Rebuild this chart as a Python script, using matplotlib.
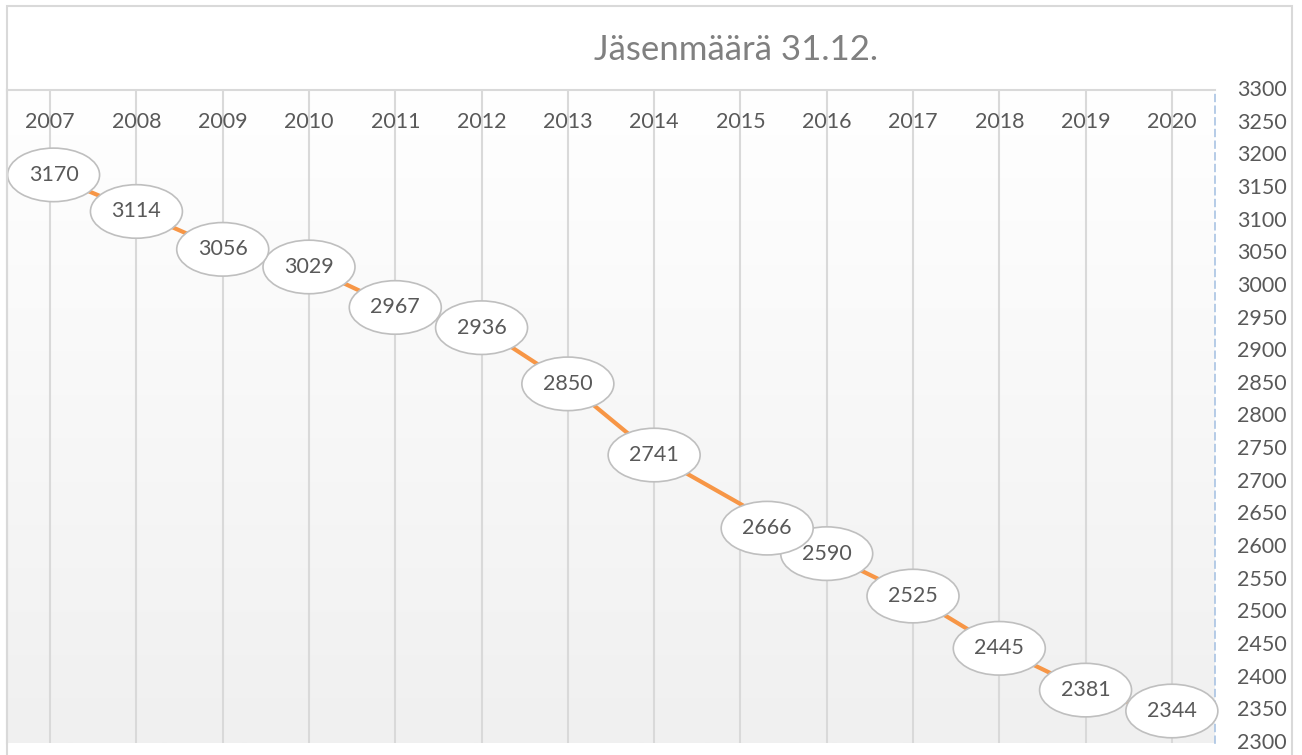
import matplotlib

matplotlib.use("Agg")
import matplotlib.pyplot as plt
import numpy as np
from matplotlib.patches import Ellipse, Rectangle

years = ["2007", "2008", "2009", "2010", "2011", "2012", "2013",
         "2014", "2015", "2016", "2017", "2018", "2019", "2020"]
members = [3170, 3114, 3056, 3029, 2967, 2936, 2850,
           2741, 2666, 2590, 2525, 2445, 2381, 2344]
# label nudges (x in categories, y in members) where the bubble sits off the point
label_dx = [0.04, 0, 0, 0, 0, 0, 0, 0, 0.31, 0, 0, 0, 0, 0]
label_dy = [0, 0, 0, 0, 0, 0, 0, 0, -37, 0, 0, 0, 0, 5]

W, H = 1302, 755
FONT = ["Lato", "DejaVu Sans"]
TXT = "#595959"
GRID = "#d9d9d9"

plt.rcParams["font.family"] = FONT

fig = plt.figure(figsize=(W / 100, H / 100), dpi=100)
fig.patches.append(Rectangle((7 / W, -0.01), (1292 - 7) / W, (H - 6) / H + 0.01,
                             transform=fig.transFigure, fill=False,
                             ec=GRID, lw=1.5))

ax = fig.add_axes([7 / W, (H - 743) / H, (1215 - 7) / W, (743 - 90) / H])
ax.set_xlim(-0.5, len(years) - 0.5)
ax.set_ylim(2300, 3300)

# background gradient, white at top to light grey at the bottom
grad = np.linspace(0, 1, 256).reshape(-1, 1)
ax.imshow(grad, extent=[0, 1, 0, 1], transform=ax.transAxes, aspect="auto",
          cmap=matplotlib.colors.LinearSegmentedColormap.from_list(
              "bg", ["#f0f0f0", "#ffffff"]), origin="lower", zorder=0)

x = np.arange(len(years))
ax.set_xticks(x)
ax.tick_params(axis="x", length=0, labelbottom=False)
ax.grid(axis="x", color=GRID, lw=1.5, zorder=1)
ax.set_axisbelow(True)

ax.plot(x, members, color="#f79646", lw=3, zorder=3, solid_capstyle="round")

for i, (v, dx, dy) in enumerate(zip(members, label_dx, label_dy)):
    ax.add_patch(Ellipse((i + dx, v + dy), 1.066, 82, fc="white",
                         ec="#bfbfbf", lw=1.2, zorder=10 + len(members) - i,
                         clip_on=False))
    ax.text(i + dx, v + dy, str(v), ha="center", va="center", fontsize=15.5,
            color=TXT, zorder=10 + len(members) - i, clip_on=False)

for i, yr in enumerate(years):
    ax.text(i, (743 - 122) / (743 - 90), yr, transform=ax.get_xaxis_transform(),
            ha="center", va="center", fontsize=15.5, color=TXT, zorder=5)

ax.yaxis.tick_right()
ax.set_yticks(np.arange(2300, 3301, 50))
ax.tick_params(axis="y", length=0, pad=16, labelsize=15.5, labelcolor=TXT)
for lbl in ax.get_yticklabels():
    lbl.set_verticalalignment("center")

ax.spines["bottom"].set_visible(False)
ax.spines["left"].set_color(GRID)
ax.spines["left"].set_linewidth(1.5)
ax.spines["top"].set_color(GRID)
ax.spines["top"].set_linewidth(1.5)
ax.spines["right"].set_color("#a9c3e3")
ax.spines["right"].set_linestyle((0, (4, 3)))
ax.spines["right"].set_linewidth(1.2)

fig.text(736 / W, 1 - 50 / H, "Jäsenmäärä 31.12.", ha="center", va="center",
         fontsize=25, color="#808080")

fig.savefig("out.png", dpi=100)
